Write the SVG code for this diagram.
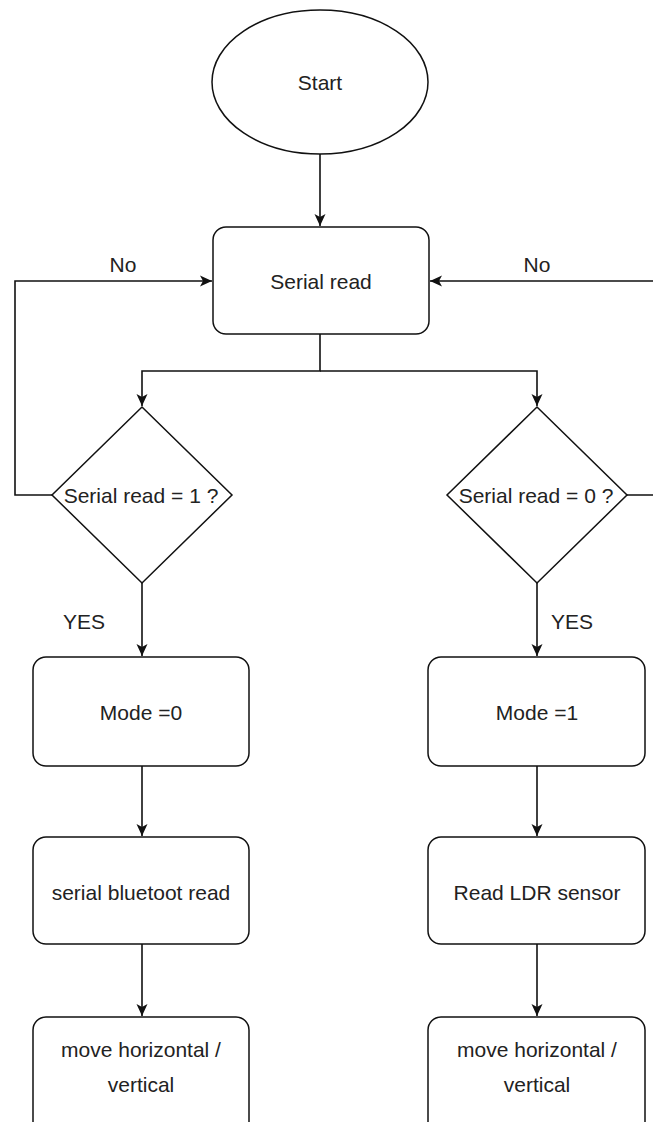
<svg xmlns="http://www.w3.org/2000/svg" width="653" height="1122" viewBox="0 0 653 1122">
<style>
.shape{fill:#fff;stroke:#111;stroke-width:1.5}
.edge{fill:none;stroke:#111;stroke-width:1.6}
text{font-family:"Liberation Sans",Arial,sans-serif;font-size:21px;fill:#222;text-anchor:middle}
</style>
<defs>
<marker id="arr" viewBox="0 0 12 12" refX="12" refY="6" markerWidth="12" markerHeight="12" markerUnits="userSpaceOnUse" orient="auto">
<path d="M0,0.5 L12,6 L0,11.5 L3,6 Z" fill="#111"/>
</marker>
</defs>
<rect width="653" height="1122" fill="#fff"/>
<g id="connectors">
<path class="edge" d="M320,154 V226" marker-end="url(#arr)"/>
<path class="edge" d="M320,334 V371 H142 V406" marker-end="url(#arr)"/>
<path class="edge" d="M320,371 H537 V406" marker-end="url(#arr)"/>
<path class="edge" d="M52,495 H15 V281 H212" marker-end="url(#arr)"/>
<path class="edge" d="M627,495 H656 V281 H430" marker-end="url(#arr)"/>
<path class="edge" d="M142,583 V656" marker-end="url(#arr)"/>
<path class="edge" d="M537,583 V656" marker-end="url(#arr)"/>
<path class="edge" d="M142,766 V836" marker-end="url(#arr)"/>
<path class="edge" d="M537,766 V836" marker-end="url(#arr)"/>
<path class="edge" d="M142,944 V1016" marker-end="url(#arr)"/>
<path class="edge" d="M537,944 V1016" marker-end="url(#arr)"/>
<text x="123" y="272">No</text>
<text x="537" y="272">No</text>
<text x="84" y="629">YES</text>
<text x="572" y="629">YES</text>
</g>
<g id="start">
<ellipse class="shape" cx="320" cy="82" rx="108" ry="72"/>
<text x="320" y="90">Start</text>
</g>
<g id="serial-read">
<rect class="shape" x="213" y="227" width="216" height="107" rx="13"/>
<text x="321" y="289">Serial read</text>
</g>
<g id="decision-1">
<path class="shape" d="M142,407 L232,495 L142,583 L52,495 Z"/>
<text x="141" y="503">Serial read = 1 ?</text>
</g>
<g id="decision-0">
<path class="shape" d="M537,407 L627,495 L537,583 L447,495 Z"/>
<text x="536" y="503">Serial read = 0 ?</text>
</g>
<g id="mode0">
<rect class="shape" x="33" y="657" width="216" height="109" rx="13"/>
<text x="141" y="720">Mode =0</text>
</g>
<g id="mode1">
<rect class="shape" x="428" y="657" width="217" height="109" rx="13"/>
<text x="537" y="720">Mode =1</text>
</g>
<g id="bt-read">
<rect class="shape" x="33" y="837" width="216" height="107" rx="13"/>
<text x="141" y="900">serial bluetoot read</text>
</g>
<g id="ldr-read">
<rect class="shape" x="428" y="837" width="217" height="107" rx="13"/>
<text x="537" y="900">Read LDR sensor</text>
</g>
<g id="move-left">
<rect class="shape" x="33" y="1017" width="216" height="120" rx="13"/>
<text x="141" y="1057">move horizontal /</text>
<text x="141" y="1092">vertical</text>
</g>
<g id="move-right">
<rect class="shape" x="428" y="1017" width="217" height="120" rx="13"/>
<text x="537" y="1057">move horizontal /</text>
<text x="537" y="1092">vertical</text>
</g>
</svg>
